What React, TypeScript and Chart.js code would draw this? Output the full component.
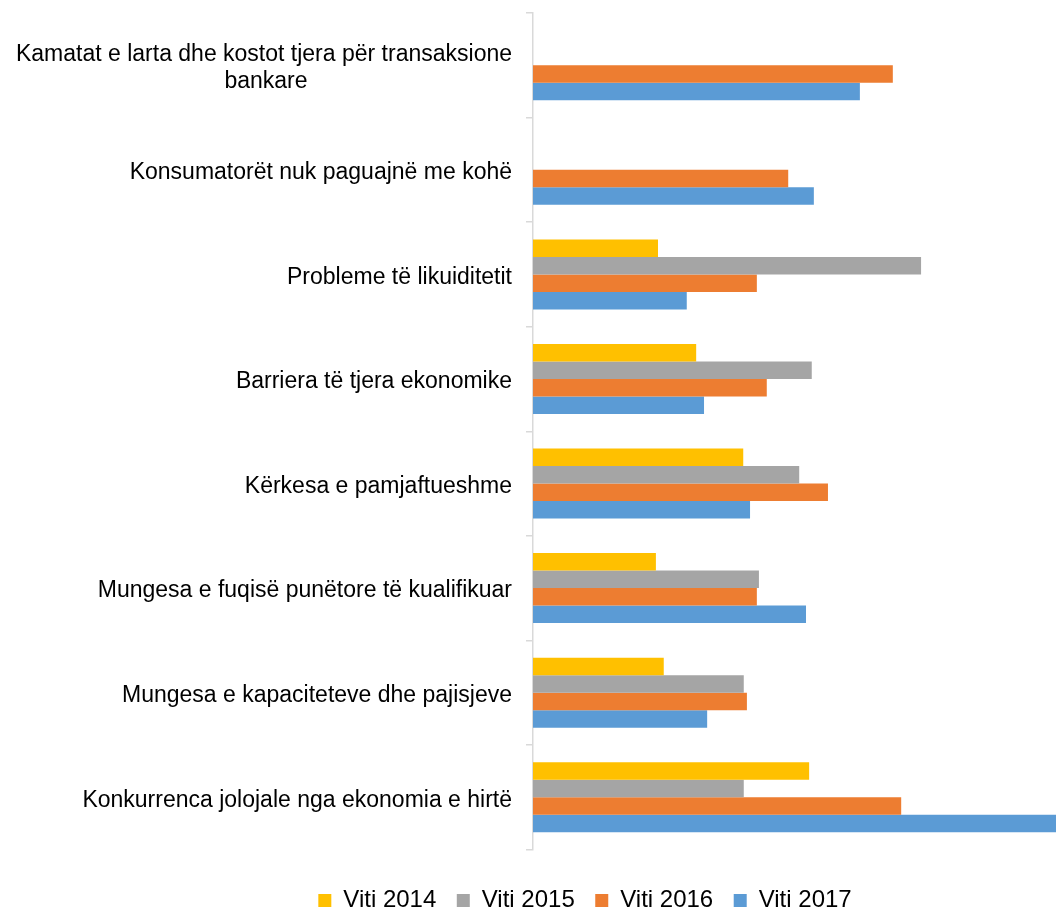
import React, { useEffect, useRef } from "react";
import { Chart, registerables } from "chart.js";

Chart.register(...registerables);

const categories: (string | string[])[] = [
  ["Kamatat e larta dhe kostot tjera për transaksione", "bankare"],
  "Konsumatorët nuk paguajnë me kohë",
  "Probleme të likuiditetit",
  "Barriera të tjera ekonomike",
  "Kërkesa e pamjaftueshme",
  "Mungesa e fuqisë punëtore të kualifikuar",
  "Mungesa e kapaciteteve dhe pajisjeve",
  "Konkurrenca jolojale nga ekonomia e hirtë",
];

const seriesLabels = ["Viti 2014", "Viti 2015", "Viti 2016", "Viti 2017"];
const seriesColors = ["#FFC000", "#A5A5A5", "#ED7D31", "#5B9BD5"];

const viti2014 = [null, null, 23.9, 31.2, 40.2, 23.5, 25.0, 52.8];
const viti2015 = [null, null, 74.2, 53.3, 50.9, 43.2, 40.3, 40.3];
const viti2016 = [68.8, 48.8, 42.8, 44.7, 56.4, 42.8, 40.9, 70.4];
const viti2017 = [62.5, 53.7, 29.4, 32.7, 41.5, 52.2, 33.3, 100];

const FONT = "'Liberation Sans', Arial, sans-serif";
const LABEL_SIZE = 23;
const LEGEND_SIZE = 24;
const LEGEND_SHIFT = 57;

const legendShift = {
  id: "legendShift",
  afterLayout(chart: any) {
    const l = chart.legend;
    if (!l) return;
    l.left += LEGEND_SHIFT;
    l.right += LEGEND_SHIFT;
  },
};

export default function App() {
  const ref = useRef<HTMLCanvasElement | null>(null);

  useEffect(() => {
    document.body.style.margin = "0";
    const canvas = ref.current;
    if (!canvas) return;
    const ctx = canvas.getContext("2d")!;

    // center a wrapped second line under the first (right-aligned labels)
    ctx.font = `${LABEL_SIZE}px ${FONT}`;
    const labels = categories.map((c) => {
      if (Array.isArray(c)) {
        const w1 = ctx.measureText(c[0]).width;
        return c.map((line, i) => {
          if (i === 0) return line;
          const w = ctx.measureText(line).width;
          const sp = ctx.measureText("\u00A0").width;
          const n = Math.max(0, Math.round((w1 - w) / 2 / sp));
          return line + "\u00A0".repeat(n);
        });
      }
      return c;
    });

    const series = [viti2014, viti2015, viti2016, viti2017];
    const chart = new Chart(ctx, {
      type: "bar",
      data: {
        labels,
        datasets: series.map((d, i) => ({
          label: seriesLabels[i],
          data: d,
          backgroundColor: seriesColors[i],
          borderWidth: 0,
          barPercentage: 1,
          categoryPercentage: 0.67,
        })),
      },
      plugins: [legendShift],
      options: {
        indexAxis: "y",
        responsive: false,
        animation: false,
        devicePixelRatio: 1,
        layout: { padding: { top: 13, bottom: -11.5, left: 0, right: 0 } },
        plugins: {
          tooltip: { enabled: false },
          legend: {
            position: "bottom",
            labels: {
              boxWidth: 13,
              boxHeight: 13,
              padding: 20.5,
              color: "#000",
              font: { family: FONT, size: LEGEND_SIZE },
            },
          },
        },
        scales: {
          x: {
            display: true,
            min: 0,
            max: 100,
            ticks: { display: false },
            grid: { display: false },
            border: { display: false },
            title: { display: true, text: "", font: { size: 5 }, padding: { top: 4.5, bottom: 0 } },
            afterFit: (s: any) => {
              s.paddingLeft = 0;
              s.paddingRight = 0;
            },
          },
          y: {
            type: "category",
            offset: true,
            grid: {
              display: true,
              offset: true,
              drawOnChartArea: false,
              drawTicks: true,
              tickLength: 7,
              color: "#d9d9d9",
              lineWidth: 1.5,
            },
            border: { display: true, color: "#d9d9d9", width: 1.5 },
            ticks: {
              autoSkip: false,
              padding: 14,
              labelOffset: 3,
              color: "#000",
              font: { family: FONT, size: LABEL_SIZE },
            },
            afterFit: (s: any) => {
              s.width = 533;
              s.paddingTop = 0;
              s.paddingBottom = 0;
            },
          },
        },
      },
    });
    return () => chart.destroy();
  }, []);

  return (
    <div style={{ width: 1056, height: 911 }}>
      <canvas ref={ref} width={1056} height={911} style={{ display: "block", width: 1056, height: 911 }} />
    </div>
  );
}
